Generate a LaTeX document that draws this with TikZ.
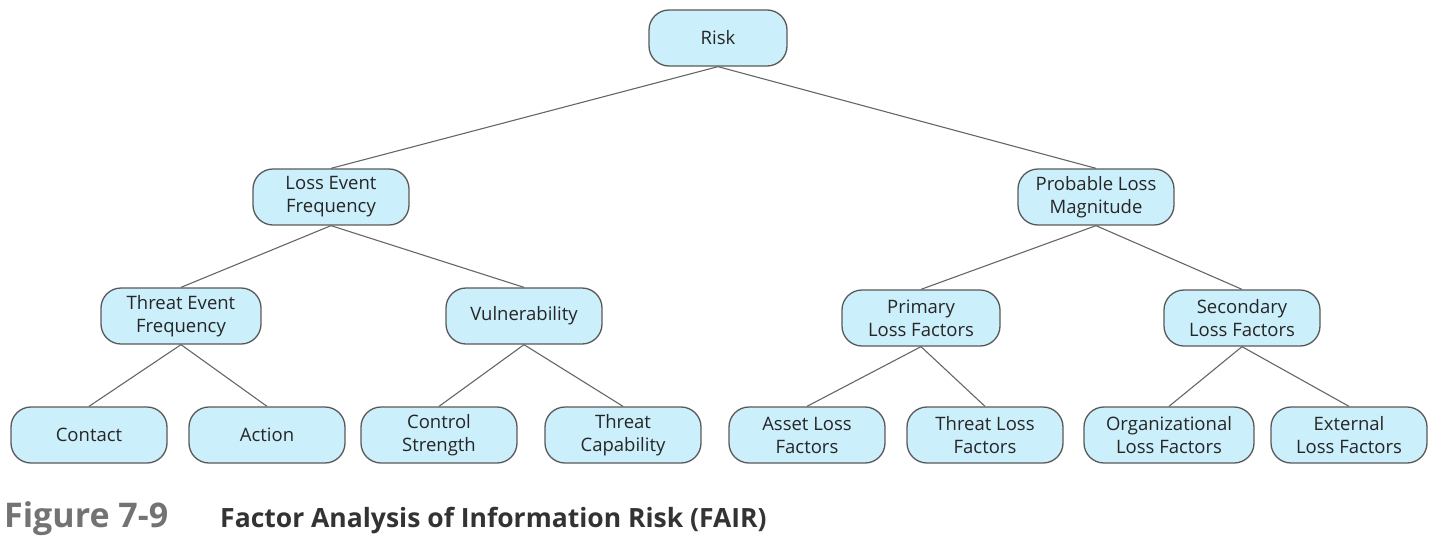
\documentclass[tikz,border=0pt]{standalone}
\usepackage{fontspec}
\setmainfont{Open Sans}
\begin{document}
\begin{tikzpicture}[x=1pt,y=-1pt,
  box/.style={draw=black!65,line width=1.3pt,fill=cyan!20!white,rounded corners=20pt,
    minimum width=156pt,minimum height=56pt,align=center,inner sep=0pt,
    font=\fontsize{18.5}{23}\selectfont,text=black!85},
  edge/.style={draw=black!60,line width=1.1pt}]
\useasboundingbox (0,0) rectangle (1440,544);
\node[box,minimum width=138pt] (risk) at (718,38) {Risk};
\node[box] (lef) at (331,197) {Loss Event\\Frequency};
\node[box] (plm) at (1096,197) {Probable Loss\\Magnitude};
\node[box,minimum width=160pt] (tef) at (181,316) {Threat Event\\Frequency};
\node[box] (vul) at (524,316) {Vulnerability};
\node[box,minimum width=158pt] (plf) at (921,318) {Primary\\Loss Factors};
\node[box] (slf) at (1242,318) {Secondary\\Loss Factors};
\node[box] (con) at (89,435) {Contact};
\node[box] (act) at (267,435) {Action};
\node[box] (cs) at (439,435) {Control\\Strength};
\node[box] (tc) at (623,435) {Threat\\Capability};
\node[box] (alf) at (807,435) {Asset Loss\\Factors};
\node[box] (tlf) at (985,435) {Threat Loss\\Factors};
\node[box,minimum width=170pt] (olf) at (1169,435) {Organizational\\Loss Factors};
\node[box] (elf) at (1349,435) {External\\Loss Factors};
\foreach \a/\b in {risk/lef,risk/plm,lef/tef,lef/vul,plm/plf,plm/slf,tef/con,tef/act,vul/cs,vul/tc,plf/alf,plf/tlf,slf/olf,slf/elf}
  \draw[edge] (\a.south) -- (\b.north);
\node[anchor=west,inner sep=0pt,text=black!55,font=\fontsize{34}{40}\selectfont\bfseries] (fig) at (4,519) {Figure 7-9};
\node[anchor=west,inner sep=0pt,text=black!80,font=\fontsize{26.5}{31}\selectfont\bfseries] (cap) at (220,521) {Factor Analysis of Information Risk (FAIR)};
\end{tikzpicture}
\end{document}
